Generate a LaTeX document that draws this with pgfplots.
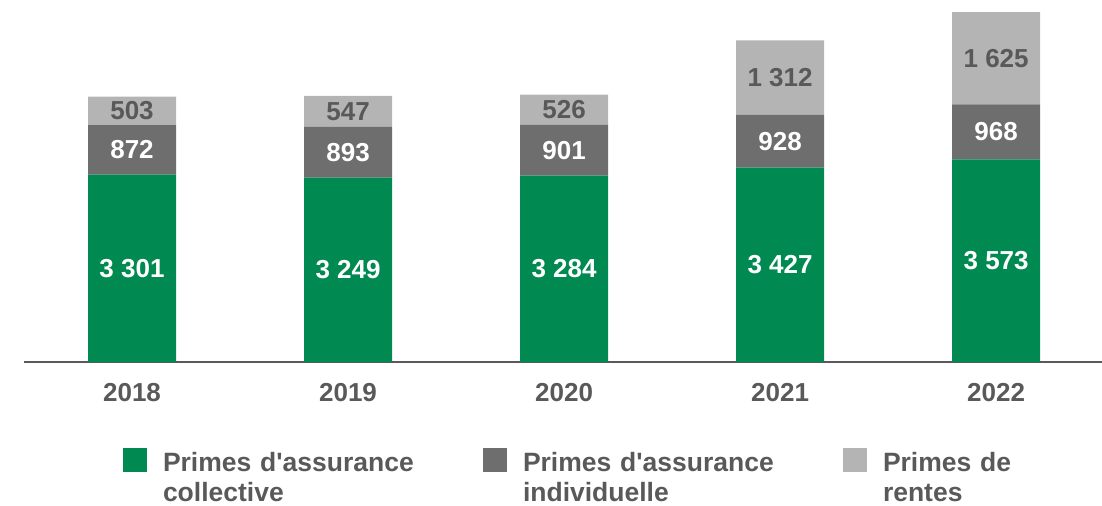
\documentclass[border=0pt]{standalone}
\usepackage{pgfplots}
\pgfplotsset{compat=1.18}
\usepackage{pgfplotstable}
\usepackage{fontspec}
\setmainfont{Liberation Sans}
\definecolor{cgreen}{HTML}{008A52}
\definecolor{cdark}{HTML}{6E6E6E}
\definecolor{clight}{HTML}{B4B4B4}
\definecolor{ctext}{HTML}{595959}
\pgfplotstableread{
x coll indiv rentes
0 3301 872 503
1 3249 893 547
2 3284 901 526
3 3427 928 1312
4 3573 968 1625
}\datatable
\pgfplotstablecreatecol[create col/expr={\thisrow{coll}/2}]{m1}\datatable
\pgfplotstablecreatecol[create col/expr={\thisrow{coll}+\thisrow{indiv}/2}]{m2}\datatable
\pgfplotstablecreatecol[create col/expr={\thisrow{coll}+\thisrow{indiv}+\thisrow{rentes}/2}]{m3}\datatable
\pgfplotsset{
  common/.style={
    at={(0,0)}, anchor=south west,
    scale only axis,
    width=539pt, height=181pt,
    xmin=-0.5, xmax=4.49,
    ymin=0, ymax=6380,
  }
}
\begin{document}
\begin{tikzpicture}
\begin{axis}[
  common,
  ybar stacked,
  bar width=44pt,
  axis y line=none,
  axis x line*=bottom,
  x axis line style={draw=ctext, line width=1pt, -},
  xtick=data,
  xticklabels={2018,2019,2020,2021,2022},
  major tick length=0pt,
  xticklabel style={anchor=north, inner sep=0pt, yshift=-10.5pt, text=ctext, font=\fontsize{13}{15}\selectfont\bfseries},
  legend columns=3,
  legend image code/.code={\fill[#1] (0pt,-4.5pt) rectangle (12pt,7.5pt);},
  legend style={draw=none, fill=none, at={(rel axis cs:0,0)}, anchor=north west, xshift=49.5pt, yshift=-43pt, inner sep=0pt, outer sep=0pt,
    nodes={inner sep=0pt, text width=140pt, align=left, text=ctext, font=\fontsize{13.25}{15}\selectfont\bfseries},
    /tikz/every odd column/.append style={column sep=8pt},
    /tikz/every even column/.append style={column sep=20pt}},
]
\addplot[fill=cgreen, draw=none] table[x=x, y=coll] {\datatable};
\addlegendentry{Primes d\textquotesingle assurance\\collective}
\addplot[fill=cdark, draw=none] table[x=x, y=indiv] {\datatable};
\addlegendentry{Primes d\textquotesingle assurance\\individuelle}
\addplot[fill=clight, draw=none] table[x=x, y=rentes] {\datatable};
\addlegendentry{Primes de\\rentes}
\end{axis}
\begin{axis}[
  common,
  hide axis,
  point meta=explicit,
  nodes near coords,
  /pgf/number format/fixed,
  /pgf/number format/precision=0,
  /pgf/number format/1000 sep={\ },
  /pgf/number format/assume math mode=true,
  every node near coord/.append style={anchor=center, inner sep=0pt, font=\fontsize{13}{15}\selectfont\bfseries},
]
\addplot[only marks, mark=none, every node near coord/.append style={text=white}] table[x=x, y=m1, meta=coll] {\datatable};
\addplot[only marks, mark=none, every node near coord/.append style={text=white}] table[x=x, y=m2, meta=indiv] {\datatable};
\addplot[only marks, mark=none, every node near coord/.append style={text=ctext}] table[x=x, y=m3, meta=rentes] {\datatable};
\end{axis}
\pgfresetboundingbox
\useasboundingbox (-12pt,-71.5pt) rectangle (539pt,181pt);
\end{tikzpicture}
\end{document}
